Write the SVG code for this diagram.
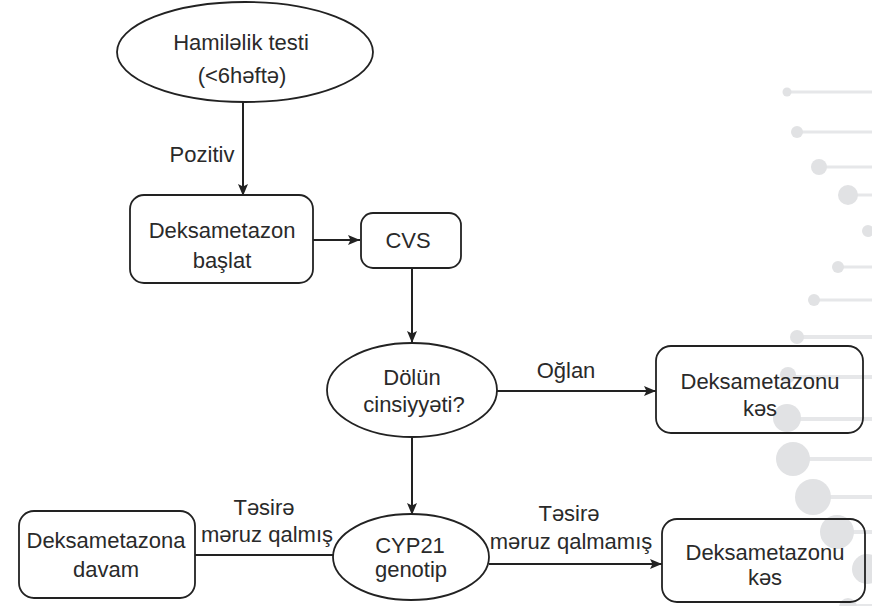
<svg xmlns="http://www.w3.org/2000/svg" width="872" height="606" viewBox="0 0 872 606">
<defs>
<style>
.deco-c{fill:#e1e2e4}
.deco-l{stroke:#e6e7e9;stroke-width:4}
.node{fill:none;stroke:#222;stroke-width:1.8}
.conn{fill:none;stroke:#222;stroke-width:2}
text{font-family:"Liberation Sans",Arial,sans-serif;font-size:22px;fill:#2a2a2a;text-anchor:middle}
</style>
<marker id="arr" viewBox="0 0 12 10" refX="12" refY="5" markerWidth="13" markerHeight="10" markerUnits="userSpaceOnUse" orient="auto">
<path d="M0,0 L12,5 L0,10 L2.5,5 Z" fill="#222"/>
</marker>
</defs>
<rect width="872" height="606" fill="#fff"/>
<g id="decoration">
<line class="deco-l" x1="787" y1="92" x2="872" y2="92" style="stroke-width:3"/><circle class="deco-c" cx="787" cy="92" r="4.5"/>
<line class="deco-l" x1="797" y1="132" x2="872" y2="132" style="stroke-width:3"/><circle class="deco-c" cx="797" cy="132" r="6"/>
<line class="deco-l" x1="819" y1="167" x2="872" y2="167" style="stroke-width:3"/><circle class="deco-c" cx="819" cy="167" r="8"/>
<line class="deco-l" x1="848" y1="195" x2="872" y2="195" style="stroke-width:3"/><circle class="deco-c" cx="848" cy="195" r="10"/>
<circle class="deco-c" cx="868" cy="231" r="6"/>
<line class="deco-l" x1="838" y1="267" x2="872" y2="267" style="stroke-width:3"/><circle class="deco-c" cx="838" cy="267" r="6"/>
<line class="deco-l" x1="814" y1="300" x2="872" y2="300" style="stroke-width:3"/><circle class="deco-c" cx="814" cy="300" r="6"/>
<line class="deco-l" x1="797" y1="337" x2="872" y2="337"/><circle class="deco-c" cx="797" cy="337" r="7"/>
<line class="deco-l" x1="788" y1="377" x2="872" y2="377"/><circle class="deco-c" cx="788" cy="375" r="8"/>
<line class="deco-l" x1="787" y1="419" x2="872" y2="419"/><circle class="deco-c" cx="787" cy="418" r="14"/>
<line class="deco-l" x1="793" y1="459" x2="872" y2="459"/><circle class="deco-c" cx="793" cy="459" r="17"/>
<line class="deco-l" x1="813" y1="497" x2="872" y2="497"/><circle class="deco-c" cx="813" cy="497" r="18"/>
<line class="deco-l" x1="837" y1="532" x2="872" y2="532"/><circle class="deco-c" cx="837" cy="532" r="17"/>
<line class="deco-l" x1="867" y1="568" x2="872" y2="568"/><circle class="deco-c" cx="867" cy="569" r="15"/>
<line class="deco-l" x1="848" y1="606" x2="872" y2="606"/><circle class="deco-c" cx="848" cy="607" r="9"/>
</g>
<g id="connectors">
<line class="conn" x1="243" y1="102" x2="243" y2="196" marker-end="url(#arr)"/>
<text x="202" y="162">Pozitiv</text>
<line class="conn" x1="313" y1="240" x2="360" y2="240" marker-end="url(#arr)"/>
<line class="conn" x1="412" y1="268" x2="412" y2="343" marker-end="url(#arr)"/>
<line class="conn" x1="497" y1="391" x2="656" y2="391" marker-end="url(#arr)"/>
<text x="566" y="378">Oğlan</text>
<line class="conn" x1="412" y1="437" x2="412" y2="515" marker-end="url(#arr)"/>
<line class="conn" x1="195" y1="555" x2="334" y2="555"/>
<text x="264" y="515">Təsirə</text>
<text x="267" y="542">məruz qalmış</text>
<line class="conn" x1="489" y1="564" x2="662" y2="564" marker-end="url(#arr)"/>
<text x="569" y="521">Təsirə</text>
<text x="571" y="549">məruz qalmamış</text>
</g>
<g id="n-pregnancy">
<ellipse class="node" cx="245" cy="52" rx="128" ry="50"/>
<text x="241" y="50">Hamiləlik testi</text>
<text x="242" y="83">(&lt;6həftə)</text>
</g>
<g id="n-start">
<rect class="node" x="130" y="195" width="183" height="88" rx="14"/>
<text x="222" y="238">Deksametazon</text>
<text x="222" y="268">başlat</text>
</g>
<g id="n-cvs">
<rect class="node" x="361" y="213" width="100" height="55" rx="12"/>
<text x="408" y="248">CVS</text>
</g>
<g id="n-sex">
<ellipse class="node" cx="412" cy="390" rx="85" ry="47"/>
<text x="412" y="385">Dölün</text>
<text x="414" y="412">cinsiyyəti?</text>
</g>
<g id="n-stop1">
<rect class="node" x="656" y="346" width="207" height="87" rx="15"/>
<text x="760" y="389">Deksametazonu</text>
<text x="760" y="416">kəs</text>
</g>
<g id="n-cyp21">
<ellipse class="node" cx="411" cy="557" rx="78" ry="43"/>
<text x="410" y="553">CYP21</text>
<text x="411" y="577">genotip</text>
</g>
<g id="n-continue">
<rect class="node" x="19" y="511" width="176" height="87" rx="15"/>
<text x="106" y="548">Deksametazona</text>
<text x="106" y="577">davam</text>
</g>
<g id="n-stop2">
<rect class="node" x="662" y="519" width="203" height="83" rx="15"/>
<text x="765" y="560">Deksametazonu</text>
<text x="765" y="585">kəs</text>
</g>
</svg>
